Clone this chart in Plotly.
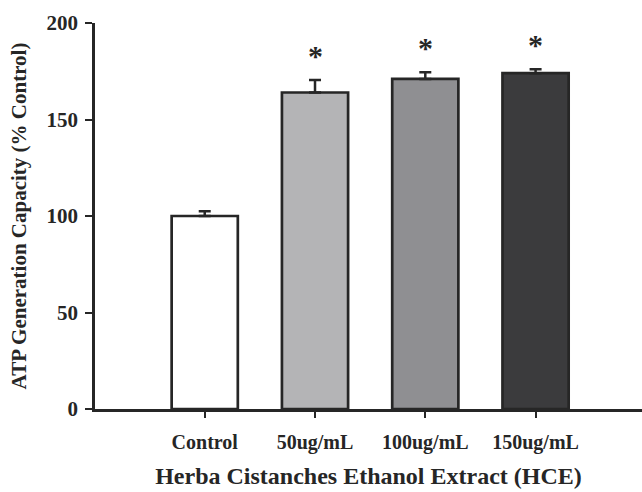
import plotly.graph_objects as go

categories = ["Control", "50ug/mL", "100ug/mL", "150ug/mL"]
values = [100, 164, 171, 174]
errors = [2.5, 6.5, 3.5, 2]
significant = [False, True, True, True]
colors = ["#ffffff", "#b4b4b6", "#8f8f92", "#3b3b3d"]

FONT = "Liberation Serif"
INK = "#262626"

xs = list(range(len(categories)))

fig = go.Figure()
fig.add_trace(go.Bar(
    x=xs, y=values, width=0.6,
    marker=dict(color=colors, line=dict(color=INK, width=2.7)),
    error_y=dict(type="data", symmetric=False, array=errors,
                 arrayminus=[0] * len(errors), color=INK, thickness=2.5, width=6),
    showlegend=False,
))

annotations = []
for x, v, e, s in zip(xs, values, errors, significant):
    if s:
        annotations.append(dict(x=x, y=v + e, xref="x", yref="y", text="*",
                                showarrow=False, yanchor="bottom", yshift=6,
                                font=dict(family=FONT, size=30, color=INK, weight="bold")))

fig.update_layout(
    width=642, height=492,
    margin=dict(l=95, r=0, t=23, b=83, autoexpand=False),
    plot_bgcolor="white", paper_bgcolor="white",
    annotations=annotations,
    xaxis=dict(
        range=[-0.995, 3.965], tickmode="array", tickvals=xs, ticktext=categories,
        showline=True, linecolor=INK, linewidth=2.5, ticks="outside", ticklen=6,
        tickwidth=2, tickcolor=INK, showgrid=False, zeroline=False,
        ticklabelstandoff=7,
        tickfont=dict(family=FONT, size=20, color=INK, weight="bold"),
        title=dict(text="Herba Cistanches Ethanol Extract (HCE)", standoff=15,
                   font=dict(family=FONT, size=24, color=INK, weight="bold")),
    ),
    yaxis=dict(
        range=[0, 200], tickvals=[0, 50, 100, 150, 200],
        showline=True, linecolor=INK, linewidth=2.5, ticks="outside", ticklen=7,
        tickwidth=2, tickcolor=INK, showgrid=False, zeroline=False,
        ticklabelstandoff=3,
        tickfont=dict(family=FONT, size=21, color=INK, weight="bold"),
        title=dict(text="ATP Generation Capacity (% Control)", standoff=15,
                   font=dict(family=FONT, size=21, color=INK, weight="bold")),
    ),
)

fig.write_html("out.html")
